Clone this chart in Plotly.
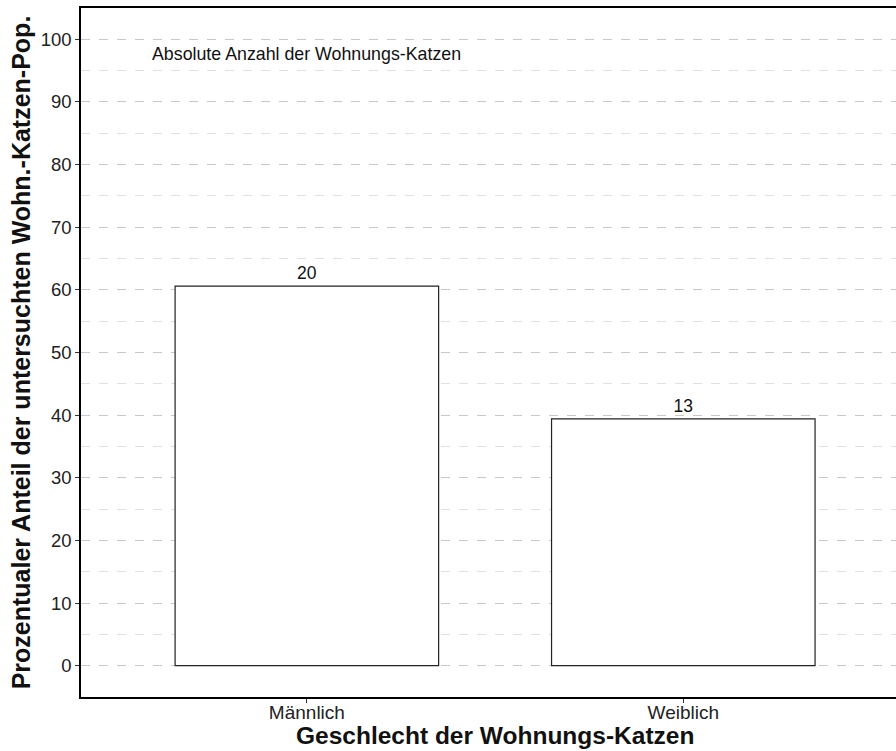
import plotly.graph_objects as go

categories = ["Männlich", "Weiblich"]
counts = [20, 13]
total = sum(counts)
percent = [c / total * 100 for c in counts]
y_ticks = [0, 10, 20, 30, 40, 50, 60, 70, 80, 90, 100]
y_minor_ticks = [5, 15, 25, 35, 45, 55, 65, 75, 85, 95]
annotation_text = "Absolute Anzahl der Wohnungs-Katzen"
x_title = "Geschlecht der Wohnungs-Katzen"
y_title = "Prozentualer Anteil der untersuchten Wohn.-Katzen-Pop."

FONT = "Liberation Sans, Arial, sans-serif"

fig = go.Figure()
fig.add_trace(go.Bar(
    x=categories, y=percent, width=0.7,
    marker=dict(color="white", line=dict(color="#222", width=1.2)),
    text=[str(c) for c in counts], textposition="outside",
    textfont=dict(family=FONT, size=17.5, color="#111"),
    cliponaxis=False,
))

fig.add_annotation(x=0, y=97.6, xref="x", yref="y", text=annotation_text,
                   showarrow=False, font=dict(family=FONT, size=17.8, color="#111"))
fig.add_annotation(x=0.5, y=-0.0566, xref="x", yref="paper", yanchor="middle",
                   text="<b>" + x_title + "</b>", showarrow=False,
                   font=dict(family=FONT, size=24.5, color="#111"))

fig.update_layout(
    width=896, height=751,
    margin=dict(l=81, r=0, t=8, b=54, autoexpand=False),
    plot_bgcolor="white", paper_bgcolor="white",
    showlegend=False,
    font=dict(family=FONT, color="#111"),
    xaxis=dict(
        type="category", range=[-0.6, 1.565], automargin=False,
        showline=True, linecolor="black", linewidth=1.6, mirror=True,
        ticks="outside", ticklen=4, tickcolor="#333",
        tickfont=dict(family=FONT, size=19, color="#222"),
        ticklabelstandoff=-7,
        showgrid=False, zeroline=False,
    ),
    yaxis=dict(
        range=[-5, 105], tickvals=y_ticks, automargin=False,
        showline=True, linecolor="black", linewidth=1.6, mirror=False,
        ticks="outside", ticklen=4, tickcolor="#333",
        tickfont=dict(family=FONT, size=18.5, color="#222"),
        showgrid=True, gridcolor="#c8c8c8", gridwidth=1, griddash="dash",
        minor=dict(tickvals=y_minor_ticks,
                   showgrid=True, gridcolor="#e0e0e0", gridwidth=1, griddash="dash",
                   ticks=""),
        zeroline=False,
        title=dict(text="<b>" + y_title + "</b>", standoff=3,
                   font=dict(family=FONT, size=25, color="#111")),
    ),
)

fig.write_html(
    "out.html",
    config={"displayModeBar": False},
    post_script="document.body.style.margin='0';document.body.style.overflow='hidden';",
)
